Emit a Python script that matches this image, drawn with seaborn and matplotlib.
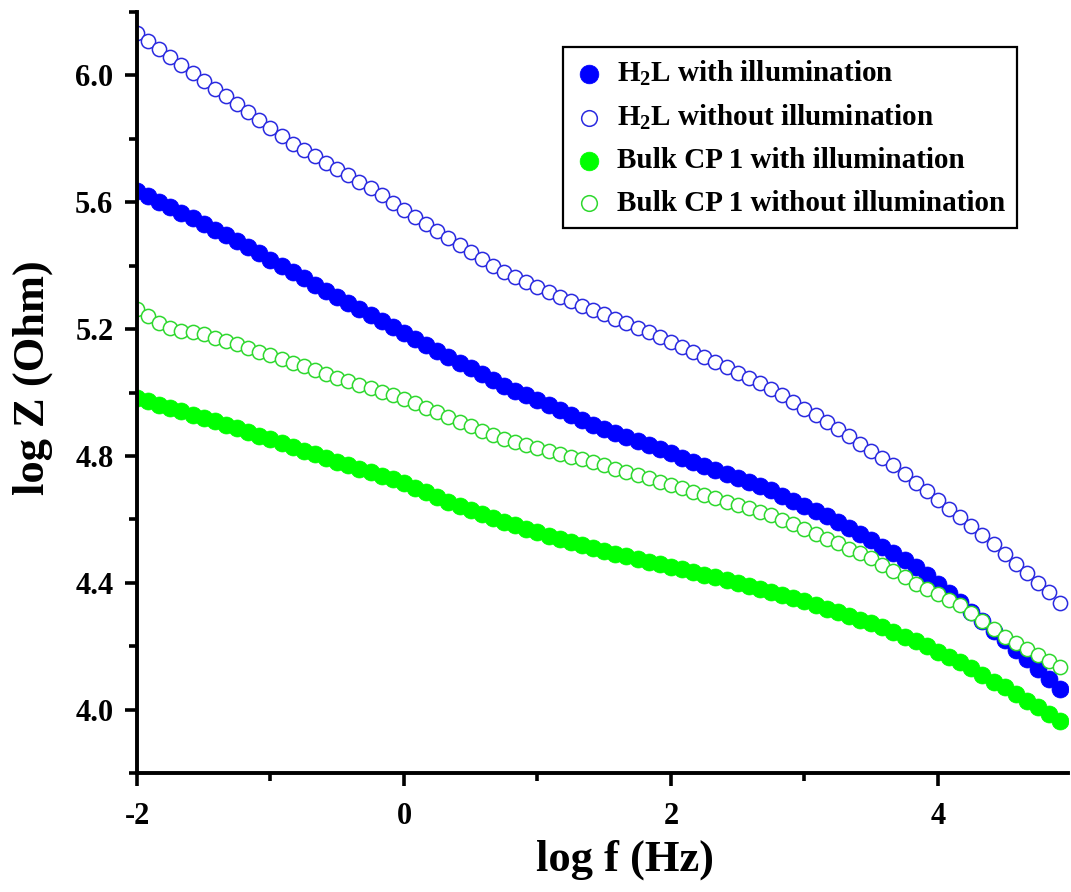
import numpy as np
import pandas as pd
import matplotlib
matplotlib.use("Agg")
import matplotlib.pyplot as plt
from matplotlib.ticker import MultipleLocator
import seaborn as sns

# ---- data ----
log_f = np.round(-2 + np.arange(84) / 12.0, 4)  # 12 points per decade

h2l_with = [
    5.637, 5.620, 5.602, 5.585, 5.567, 5.549, 5.532, 5.514, 5.497, 5.479, 5.459, 5.439,
    5.419, 5.399, 5.380, 5.360, 5.340, 5.320, 5.301, 5.282, 5.263, 5.244, 5.225, 5.206,
    5.187, 5.168, 5.150, 5.131, 5.113, 5.094, 5.076, 5.057, 5.039, 5.022, 5.006, 4.991,
    4.975, 4.960, 4.944, 4.929, 4.913, 4.898, 4.884, 4.871, 4.859, 4.846, 4.833, 4.821,
    4.808, 4.795, 4.782, 4.769, 4.756, 4.743, 4.730, 4.717, 4.704, 4.691, 4.675, 4.659,
    4.643, 4.626, 4.609, 4.591, 4.573, 4.554, 4.535, 4.514, 4.493, 4.472, 4.450, 4.423,
    4.395, 4.367, 4.338, 4.308, 4.278, 4.248, 4.218, 4.188, 4.158, 4.127, 4.096, 4.065,
]
h2l_without = [
    6.133, 6.108, 6.083, 6.058, 6.033, 6.008, 5.983, 5.958, 5.934, 5.909, 5.884, 5.859,
    5.834, 5.810, 5.785, 5.765, 5.745, 5.725, 5.705, 5.685, 5.665, 5.645, 5.622, 5.598,
    5.575, 5.553, 5.531, 5.509, 5.487, 5.465, 5.443, 5.421, 5.400, 5.380, 5.364, 5.348,
    5.332, 5.317, 5.302, 5.288, 5.274, 5.260, 5.246, 5.232, 5.218, 5.204, 5.190, 5.176,
    5.160, 5.144, 5.128, 5.112, 5.096, 5.080, 5.063, 5.046, 5.029, 5.012, 4.991, 4.970,
    4.949, 4.928, 4.907, 4.885, 4.862, 4.839, 4.816, 4.793, 4.770, 4.743, 4.716, 4.689,
    4.662, 4.634, 4.606, 4.578, 4.550, 4.522, 4.491, 4.460, 4.430, 4.400, 4.372, 4.335,
]
cp_with = [
    4.983, 4.972, 4.962, 4.951, 4.941, 4.930, 4.920, 4.909, 4.899, 4.888, 4.876, 4.864,
    4.852, 4.840, 4.829, 4.817, 4.805, 4.793, 4.782, 4.771, 4.760, 4.749, 4.738, 4.726,
    4.715, 4.700, 4.685, 4.671, 4.656, 4.641, 4.629, 4.617, 4.605, 4.593, 4.581, 4.570,
    4.559, 4.549, 4.538, 4.527, 4.518, 4.509, 4.500, 4.492, 4.483, 4.475, 4.467, 4.459,
    4.450, 4.442, 4.434, 4.425, 4.417, 4.408, 4.400, 4.391, 4.381, 4.371, 4.361, 4.351,
    4.341, 4.330, 4.318, 4.307, 4.296, 4.284, 4.273, 4.259, 4.244, 4.230, 4.215, 4.199,
    4.183, 4.167, 4.151, 4.130, 4.109, 4.088, 4.070, 4.049, 4.028, 4.007, 3.986, 3.965,
]
cp_without = [
    5.264, 5.242, 5.220, 5.202, 5.195, 5.190, 5.185, 5.172, 5.162, 5.153, 5.141, 5.129,
    5.117, 5.105, 5.094, 5.082, 5.070, 5.058, 5.047, 5.036, 5.025, 5.014, 5.003, 4.992,
    4.981, 4.966, 4.952, 4.937, 4.923, 4.908, 4.894, 4.879, 4.865, 4.852, 4.843, 4.834,
    4.825, 4.816, 4.807, 4.798, 4.789, 4.780, 4.771, 4.760, 4.750, 4.739, 4.729, 4.718,
    4.708, 4.698, 4.687, 4.677, 4.666, 4.656, 4.645, 4.635, 4.624, 4.614, 4.599, 4.585,
    4.570, 4.555, 4.539, 4.524, 4.508, 4.493, 4.477, 4.457, 4.437, 4.417, 4.397, 4.380,
    4.363, 4.346, 4.330, 4.305, 4.280, 4.255, 4.230, 4.211, 4.192, 4.173, 4.154, 4.135,
]

labels = [
    r"H$_2$L with illumination",
    r"H$_2$L without illumination",
    "Bulk CP 1 with illumination",
    "Bulk CP 1 without illumination",
]
series = [h2l_with, h2l_without, cp_with, cp_without]

# ---- style ----
sns.set_style("ticks")
plt.rcParams["font.family"] = ["Liberation Serif", "DejaVu Serif"]
plt.rcParams["font.weight"] = "bold"
plt.rcParams["text.color"] = "black"
plt.rcParams["axes.labelcolor"] = "black"
plt.rcParams["xtick.color"] = "black"
plt.rcParams["ytick.color"] = "black"
plt.rcParams["axes.unicode_minus"] = False
plt.rcParams["mathtext.fontset"] = "custom"
plt.rcParams["mathtext.rm"] = "Liberation Serif:bold"
plt.rcParams["mathtext.it"] = "Liberation Serif:bold"
plt.rcParams["mathtext.bf"] = "Liberation Serif:bold"
plt.rcParams["mathtext.default"] = "rm"

fig = plt.figure(figsize=(10.71, 8.92), dpi=100)
ax = fig.add_axes([137 / 1071, (892 - 773) / 892, 931 / 1071, 761 / 892])

styles = [
    dict(color="#0000FF", edgecolor="#0000FF", s=150, linewidth=0.5),
    dict(color="white", edgecolor="#2A2AE0", s=105, linewidth=1.1),
    dict(color="#00FF00", edgecolor="#00FF00", s=150, linewidth=0.5),
    dict(color="white", edgecolor="#2ED82E", s=105, linewidth=1.1),
]

for y, lab, st in zip(series, labels, styles):
    df = pd.DataFrame({"log f": log_f, "log Z": y})
    sns.scatterplot(data=df, x="log f", y="log Z", ax=ax, label=lab,
                    marker="o", clip_on=True, **st)

ax.set_xlim(-2, 4.974)
ax.set_ylim(3.8, 6.2)
ax.xaxis.set_major_locator(MultipleLocator(2))
ax.xaxis.set_minor_locator(MultipleLocator(1))
ax.yaxis.set_major_locator(MultipleLocator(0.4))
ax.yaxis.set_minor_locator(MultipleLocator(0.2))
ax.yaxis.set_major_formatter(matplotlib.ticker.FormatStrFormatter("%.1f"))

for side in ["top", "right"]:
    ax.spines[side].set_visible(False)
for side in ["left", "bottom"]:
    ax.spines[side].set_linewidth(2.8)
    ax.spines[side].set_color("black")

ax.tick_params(axis="both", which="major", direction="out", length=9,
               width=2.6, labelsize=22, colors="black")
ax.tick_params(axis="y", which="major", pad=8)
ax.tick_params(axis="x", which="major", pad=12)
ax.tick_params(axis="both", which="minor", direction="out", length=6,
               width=2.6, colors="black")
for t in ax.get_xticklabels() + ax.get_yticklabels():
    t.set_fontweight("bold")

ax.set_xlabel("log f (Hz)", fontsize=32, fontweight="bold")
ax.set_ylabel("log Z (Ohm)", fontsize=32, fontweight="bold")
ax.xaxis.set_label_coords(0.524, -0.088)
ax.yaxis.set_label_coords(-0.090, 0.52)

leg = ax.legend(loc="upper right", bbox_to_anchor=(0.945, 0.954),
                borderaxespad=0, frameon=True, fancybox=False,
                prop={"family": "Liberation Serif", "weight": "bold", "size": 21},
                handletextpad=0.45, labelspacing=0.52, borderpad=0.4,
                handlelength=1.0, markerscale=1.1)
leg.get_frame().set_edgecolor("black")
leg.get_frame().set_linewidth(1.6)
leg.get_frame().set_alpha(1)

fig.savefig("out.png", dpi=100, facecolor="white")
